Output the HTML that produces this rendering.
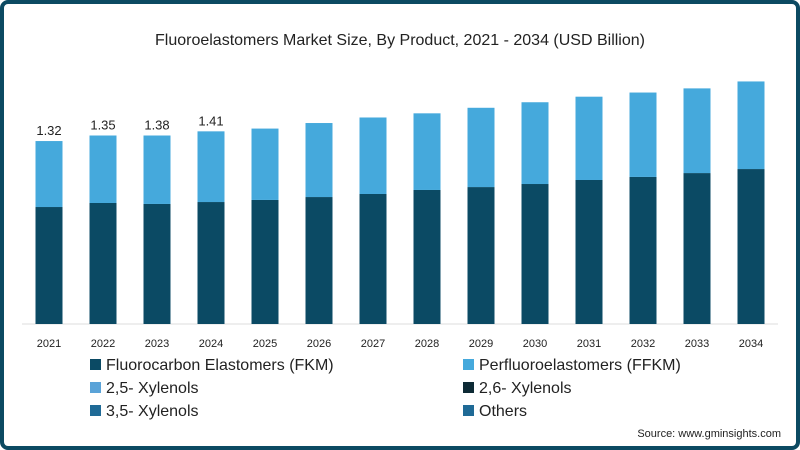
<!DOCTYPE html>
<html><head><meta charset="utf-8"><style>
body{margin:0;width:800px;height:450px;overflow:hidden;background:#fff;font-family:"Liberation Sans",sans-serif}
#frame{position:absolute;left:0;top:0;width:792px;height:442px;border:4px solid #0c4a62;border-radius:8px;background:#fff}
</style></head><body>
<div id="frame"></div>
<svg id="chart" width="800" height="450" style="position:absolute;left:0;top:0">
<text x="400" y="45" text-anchor="middle" font-size="16" fill="#222">Fluoroelastomers  Market Size, By Product, 2021 - 2034 (USD Billion)</text>
<line x1="22" y1="324" x2="778" y2="324" stroke="#ddd"/>
<g id="bars"></g>
<g id="legend" font-size="16" fill="#222">
<rect x="90" y="359" width="11" height="11" fill="#0b4a64"/><text x="106" y="370">Fluorocarbon Elastomers (FKM)</text>
<rect x="90" y="382" width="11" height="11" fill="#5aa3d8"/><text x="106" y="393">2,5- Xylenols</text>
<rect x="90" y="405" width="11" height="11" fill="#1f6a96"/><text x="106" y="416">3,5- Xylenols</text>
<rect x="463" y="359" width="11" height="11" fill="#45a9dc"/><text x="479" y="370">Perfluoroelastomers (FFKM)</text>
<rect x="463" y="382" width="11" height="11" fill="#0d2a35"/><text x="479" y="393">2,6- Xylenols</text>
<rect x="463" y="405" width="11" height="11" fill="#1f6a96"/><text x="479" y="416">Others</text>
</g>
<text x="781" y="437" text-anchor="end" font-size="11" fill="#222">Source: www.gminsights.com</text>
</svg>
<script>
const years=[2021,2022,2023,2024,2025,2026,2027,2028,2029,2030,2031,2032,2033,2034];
const fkm=[0.844,0.873,0.866,0.880,0.895,0.916,0.938,0.967,0.988,1.01,1.039,1.061,1.089,1.118];
const ffkm=[0.476,0.487,0.494,0.51,0.515,0.534,0.552,0.553,0.572,0.59,0.601,0.609,0.611,0.632];
const valueLabels=["1.32","1.35","1.38","1.41"];
const NS="http://www.w3.org/2000/svg";
const base=324,scale=138.6;
const xc=i=>49+i*54;
const yv=v=>base-v*scale;
const g=document.getElementById('bars');
function mk(t,a){const e=document.createElementNS(NS,t);for(const k in a)e.setAttribute(k,a[k]);g.appendChild(e);return e;}
years.forEach((yr,i)=>{
 const x=xc(i)-13.5;
 const r1=mk('rect',{x:x,y:yv(fkm[i]),width:27,height:fkm[i]*scale,fill:'#0b4a64'});
 
 
 const tot=fkm[i]+ffkm[i];
 const r2=mk('rect',{x:x,y:yv(tot),width:27,height:ffkm[i]*scale,fill:'#45a9dc'});
 
 
 const t=mk('text',{x:xc(i),y:347,'text-anchor':'middle','font-size':11,fill:'#222'});
 t.textContent=yr;
 
 
 if(i<valueLabels.length){
  const l=mk('text',{x:xc(i),y:yv(tot)-6,'text-anchor':'middle','font-size':13,fill:'#222'});
  l.textContent=valueLabels[i];
  
  
 }
});
</script>
</body></html>
